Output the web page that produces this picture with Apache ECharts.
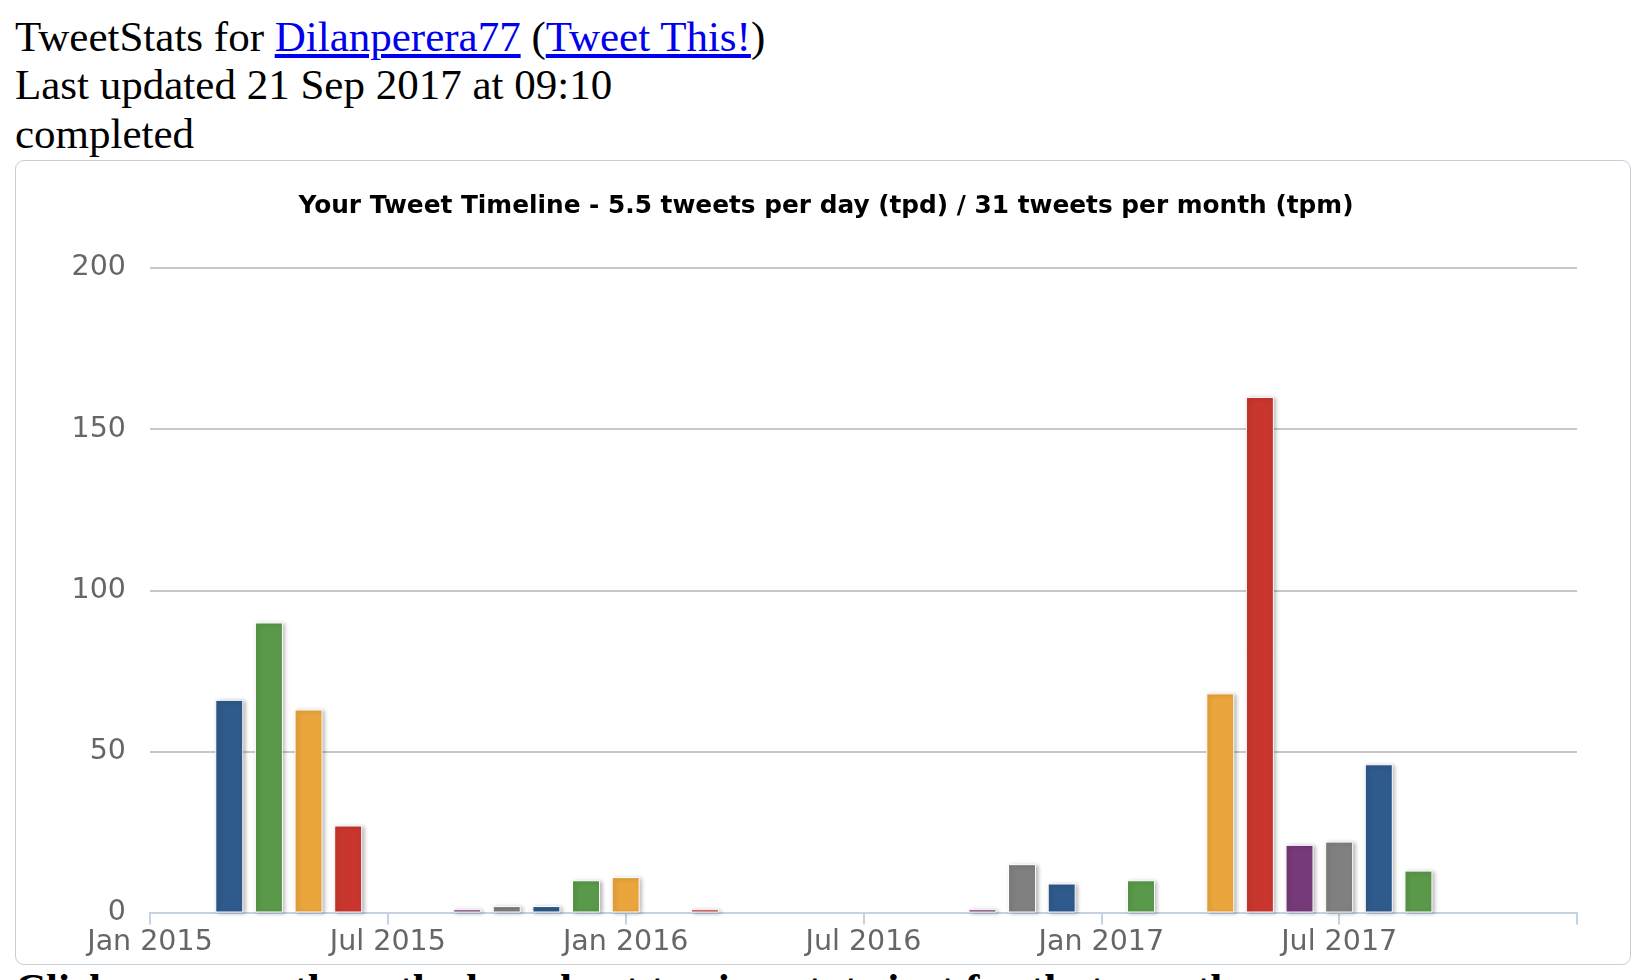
<!DOCTYPE html>
<html><head><meta charset="utf-8">
<script src="https://cdn.jsdelivr.net/npm/echarts@6/dist/echarts.min.js"></script>
<style>
html,body{margin:0;padding:0;width:1652px;height:980px;overflow:hidden;background:#fff;}
#hdr{position:absolute;left:15px;top:13px;font-family:"Liberation Serif","Times New Roman",serif;font-size:43px;line-height:48.3px;color:#000;white-space:nowrap;}
#hdr a{color:#0000ee;text-decoration:underline;}
#box{position:absolute;left:15px;top:160px;width:1616px;height:805px;box-sizing:border-box;border:1px solid #c5cdd8;border-radius:9px;}
#foot{position:absolute;left:15px;top:965px;font-family:"Liberation Serif","Times New Roman",serif;font-weight:bold;font-size:43px;line-height:48px;white-space:nowrap;color:#000;}
#chart{position:absolute;left:0;top:0;width:1652px;height:980px;}
</style></head>
<body>
<div id="hdr">TweetStats for <a href="#">Dilanperera77</a> (<a href="#">Tweet This!</a>)<br>Last updated 21 Sep 2017 at 09:10<br>completed</div>
<div id="box"></div>
<div id="foot">Click on a month on the bar chart to view stats just for that month</div>
<div id="chart"></div>
<script>
const chartTitle = 'Your Tweet Timeline - 5.5 tweets per day (tpd) / 31 tweets per month (tpm)';
const months = [
  'Jan 2015','Feb 2015','Mar 2015','Apr 2015','May 2015','Jun 2015','Jul 2015','Aug 2015','Sep 2015','Oct 2015','Nov 2015','Dec 2015',
  'Jan 2016','Feb 2016','Mar 2016','Apr 2016','May 2016','Jun 2016','Jul 2016','Aug 2016','Sep 2016','Oct 2016','Nov 2016','Dec 2016',
  'Jan 2017','Feb 2017','Mar 2017','Apr 2017','May 2017','Jun 2017','Jul 2017','Aug 2017','Sep 2017','Oct 2017','Nov 2017','Dec 2017',
  'Jan 2018'
];
const tweets = [
  null, null, 66, 90, 63, 27, null, null, 1, 2, 2, 10,
  11, null, 1, null, null, null, null, null, null, 1, 15, 9,
  null, 10, null, 68, 160, 21, 22, 46, 13, null, null, null,
  null
];
const tickLabels = ['Jan 2015','Jul 2015','Jan 2016','Jul 2016','Jan 2017','Jul 2017'];
const yTicks = [0, 50, 100, 150, 200];
const palette = ['#2f5a8c', '#5a9949', '#eba53d', '#c8362e', '#763a7a', '#808080'];

let k = 0;
const barData = tweets.map(v => {
  if (v === null) return null;
  const c = palette[k++ % palette.length];
  return { value: v, itemStyle: { color: c } };
});

const chart = echarts.init(document.getElementById('chart'), null, { renderer: 'canvas' });
chart.setOption({
  backgroundColor: 'transparent',
  animation: false,
  title: {
    text: chartTitle,
    left: 'center',
    top: 189,
    textStyle: { fontFamily: 'DejaVu Sans', fontWeight: 'bold', fontSize: 24.8, color: '#000' }
  },
  grid: { left: 150, right: 75, top: 268, bottom: 67.5, containLabel: false },
  xAxis: {
    type: 'category',
    data: months,
    boundaryGap: false,
    axisLine: { show: true, lineStyle: { color: '#c4d2e2', width: 2 } },
    axisTick: { show: true, interval: 5, length: 12, lineStyle: { color: '#c4d2e2', width: 2 } },
    axisLabel: {
      interval: 5,
      margin: 16,
      color: '#666',
      fontFamily: 'DejaVu Sans',
      fontSize: 28.5,
      formatter: v => tickLabels.includes(v) ? v : ''
    },
    splitLine: { show: false }
  },
  yAxis: {
    type: 'value',
    min: yTicks[0],
    max: yTicks[yTicks.length - 1],
    interval: 50,
    axisLine: { show: false },
    axisTick: { show: false },
    axisLabel: { margin: 24, color: '#666', fontFamily: 'DejaVu Sans', fontSize: 28.5 },
    splitLine: { lineStyle: { color: '#c8c8c8', width: 2 } }
  },
  series: [{
    type: 'bar',
    data: barData,
    barWidth: 28,
    itemStyle: {
      borderColor: '#fff',
      borderWidth: 1,
      shadowColor: 'rgba(0,0,0,0.28)',
      shadowBlur: 4,
      shadowOffsetX: 2,
      shadowOffsetY: 1
    }
  }]
});
</script>
</body></html>
